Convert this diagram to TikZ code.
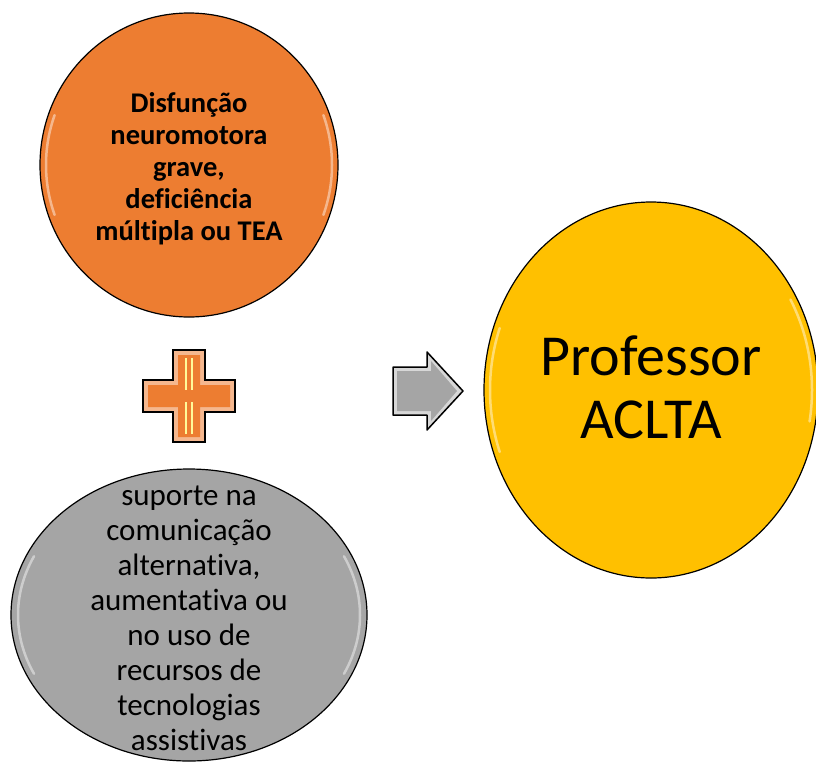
\documentclass[tikz,border=0pt]{standalone}
\usepackage{fontspec}
\setmainfont[Ligatures=NoCommon]{Carlito}
\usetikzlibrary{shapes.geometric}
\definecolor{accorange}{HTML}{ED7D31}
\definecolor{accgray}{HTML}{A5A5A5}
\definecolor{accgold}{HTML}{FFC000}

\begin{document}
\begin{tikzpicture}[x=1pt, y=-1pt,
	bubble/.style={ellipse, draw=black, line width=1.2pt, inner sep=0pt},
	glint/.style={white, line width=2.5pt, opacity=.45, line cap=round},
	bubbletext/.style={align=center, text=black}]
	\useasboundingbox (0,0) rectangle (816,761);

	\node (cond) at (189,165) [bubble, fill=accorange, minimum width=298pt, minimum height=304pt] {};
	\node (supp) at (189,615) [bubble, fill=accgray, minimum width=356pt, minimum height=292pt] {};
	\node (prof) at (651,390) [bubble, fill=accgold, minimum width=334pt, minimum height=376pt] {};

	% highlights on the left and right rims
	\draw[glint] ([shift={(160:143 and 146)}]cond.center) arc[start angle=160, end angle=200, x radius=143, y radius=146];
	\draw[glint] ([shift={(-20:143 and 146)}]cond.center) arc[start angle=-20, end angle=20, x radius=143, y radius=146];
	\draw[glint] ([shift={(155:171 and 139)}]supp.center) arc[start angle=155, end angle=205, x radius=171, y radius=139];
	\draw[glint] ([shift={(-25:171 and 139)}]supp.center) arc[start angle=-25, end angle=25, x radius=171, y radius=139];
	\draw[glint] ([shift={(160:161 and 181)}]prof.center) arc[start angle=160, end angle=200, x radius=161, y radius=181];
	\draw[glint] ([shift={(-30:161 and 181)}]prof.center) arc[start angle=-30, end angle=10, x radius=161, y radius=181];

	\node (condtext) at (cond.center) [bubbletext, yshift=-4pt, font=\bfseries\fontsize{28.5}{32}\selectfont] {Disfunção\\neuromotora\\grave,\\deficiência\\múltipla ou TEA};
	\node (supptext) at (supp.center) [bubbletext, yshift=-3pt, font=\fontsize{31}{35}\selectfont] {suporte na\\comunicação\\alternativa,\\aumentativa ou\\no uso de\\recursos de\\tecnologias\\assistivas};
	\node (proftext) at (prof.center) [bubbletext, yshift=3pt, font=\fontsize{58}{63}\selectfont] {Professor\\ACLTA};

	% plus sign
	\coordinate (plus) at (189,396);
	\draw[fill=accorange!55!white, line width=1.5pt, shift={(plus)}]
		(-16,-46) -- (16,-46) -- (16,-16) -- (46,-16) -- (46,16) -- (16,16) -- (16,46) -- (-16,46)
		-- (-16,16) -- (-46,16) -- (-46,-16) -- (-16,-16) -- cycle;
	\fill[accorange, shift={(plus)}]
		(-11,-41) -- (11,-41) -- (11,-11) -- (41,-11) -- (41,11) -- (11,11) -- (11,41) -- (-11,41)
		-- (-11,11) -- (-41,11) -- (-41,-11) -- (-11,-11) -- cycle;
	\draw[yellow!40!white, line width=1.5pt, shift={(plus)}] (-3,-38) -- (-3,-6) (3,-38) -- (3,-6) (-3,6) -- (-3,38) (3,6) -- (3,38);

	% arrow
	\coordinate (next) at (428,391);
	\draw[fill=accgray!45!white, line width=1.5pt, line join=round, shift={(next)}]
		(-35,-24) -- (-1,-24) -- (-1,-39) -- (35,0) -- (-1,39) -- (-1,24) -- (-35,24) -- cycle;
	\fill[accgray, shift={(next)}]
		(-31,-20) -- (3,-20) -- (3,-30) -- (29,0) -- (3,30) -- (3,20) -- (-31,20) -- cycle;
\end{tikzpicture}
\end{document}
